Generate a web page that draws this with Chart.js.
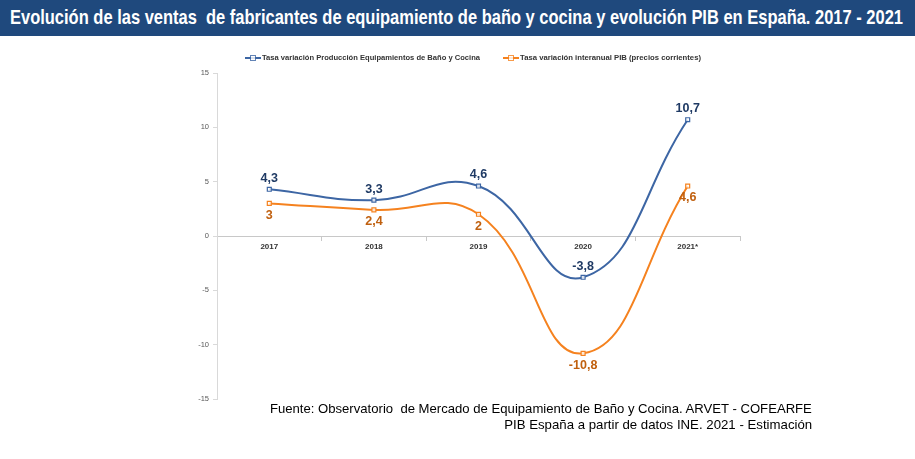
<!DOCTYPE html>
<html>
<head>
<meta charset="utf-8">
<script src="https://cdn.jsdelivr.net/npm/chart.js@4.4.0/dist/chart.umd.min.js"></script>
<style>
html,body{margin:0;padding:0;background:#fff;width:915px;height:459px;overflow:hidden;font-family:"Liberation Sans",Arial,sans-serif;}
#title{position:absolute;left:0;top:0;width:915px;height:36px;background:#1F497D;}
#title span{position:absolute;left:10px;top:5px;color:#fff;font-family:"Liberation Sans Narrow","Liberation Sans",Arial,sans-serif;font-weight:bold;font-size:21px;white-space:nowrap;transform-origin:0 0;}
#wrap{position:absolute;left:0;top:0;width:915px;height:459px;}
.leg{position:absolute;top:53px;font-size:7.6px;font-weight:bold;color:#333;white-space:nowrap;transform-origin:0 0;}
.sym{position:absolute;top:57px;width:16px;height:2px;}
.sym i{position:absolute;left:5px;top:-2px;width:4px;height:4px;border:1px solid;background:#fff;opacity:0.8}
.src{position:absolute;font-size:13.2px;color:#000;white-space:nowrap;transform-origin:100% 0;}
</style>
</head>
<body>
<div id="wrap"><canvas id="c" width="915" height="459"></canvas></div>
<div id="title"><span id="tt">Evolución de las ventas&nbsp; de fabricantes de equipamiento de baño y cocina y evolución PIB en España. 2017 - 2021</span></div>
<div class="sym" style="left:245px;background:#3D66A4"><i style="border-color:#3D66A4"></i></div>
<div class="leg" id="l1" style="left:262px">Tasa variación Producción Equipamientos de Baño y Cocina</div>
<div class="sym" style="left:503px;background:#F5821F"><i style="border-color:#F5821F"></i></div>
<div class="leg" id="l2" style="left:520px">Tasa variación interanual PIB (precios corrientes)</div>
<div class="src" id="s1" style="right:103px;top:401px">Fuente: Observatorio&nbsp; de Mercado de Equipamiento de Baño y Cocina. ARVET - COFEARFE</div>
<div class="src" id="s2" style="right:103px;top:417px">PIB España a partir de datos INE. 2021 - Estimación</div>
<script>
const categories = ["2017","2018","2019","2020","2021*"];
const produccion = [4.3, 3.3, 4.6, -3.8, 10.7];
const pib = [3, 2.4, 2, -10.8, 4.6];
const yTicks = [-15, -10, -5, 0, 5, 10, 15];

function fitWidth(id, w){
  const el = document.getElementById(id);
  const r = el.getBoundingClientRect().width;
  el.style.transform = 'scaleX(' + (w / r) + ')';
}
fitWidth('tt', 893);
fitWidth('l1', 218);
fitWidth('l2', 181);
fitWidth('s1', 542);
fitWidth('s2', 308);

const fmt = v => String(v).replace('.', ',');

const labelPlugin = {
  id: 'valueLabels',
  afterDatasetsDraw(chart){
    const ctx = chart.ctx;
    ctx.save();
    ctx.font = 'bold 12.5px "Liberation Sans", Arial, sans-serif';
    ctx.textAlign = 'center';
    ctx.textBaseline = 'middle';
    chart.data.datasets.forEach((ds, di) => {
      const meta = chart.getDatasetMeta(di);
      meta.data.forEach((pt, i) => {
        const above = di === 0;
        ctx.fillStyle = above ? '#1F3A64' : '#C0600F';
        ctx.fillText(fmt(ds.data[i]), pt.x, pt.y + (above ? -11 : 12));
      });
    });
    ctx.restore();
  }
};

new Chart(document.getElementById('c'), {
  type: 'line',
  data: {
    labels: categories,
    datasets: [
      {label: 'Tasa variación Producción Equipamientos de Baño y Cocina', data: produccion,
       borderColor: '#3D66A4', backgroundColor: 'rgba(255,255,255,0.8)', borderWidth: 2,
       tension: 0.45, pointStyle: 'rect', pointRadius: 2.8, pointBorderWidth: 1.2, pointBorderColor: '#3D66A4'},
      {label: 'Tasa variación interanual PIB (precios corrientes)', data: pib,
       borderColor: '#F5821F', backgroundColor: 'rgba(255,255,255,0.8)', borderWidth: 2,
       tension: 0.45, pointStyle: 'rect', pointRadius: 2.8, pointBorderWidth: 1.2, pointBorderColor: '#F5821F'}
    ]
  },
  options: {
    responsive: false,
    animation: false,
    layout: {padding: {left: 187, top: 73, right: 175, bottom: 60}},
    plugins: {legend: {display: false}, tooltip: {enabled: false}},
    scales: {
      x: {
        position: {y: 0},
        offset: true,
        grid: {display: true, drawOnChartArea: false, offset: true, tickLength: 4, color: '#C8C8C8'},
        border: {color: '#C8C8C8', width: 1},
        ticks: {color: '#333', font: {size: 8, weight: 'bold', family: '"Liberation Sans", Arial'}, padding: 2, maxRotation: 0}
      },
      y: {
        min: -15, max: 15,
        afterFit(s){ s.width = 30; },
        afterBuildTicks(s){ s.ticks = yTicks.map(v => ({value: v})); },
        grid: {display: true, drawOnChartArea: false, tickLength: 4, color: '#D9D9D9'},
        border: {color: '#D9D9D9', width: 1},
        ticks: {color: '#595959', font: {size: 7.5, family: '"Liberation Sans", Arial'}, padding: 4}
      }
    }
  },
  plugins: [labelPlugin]
});
</script>
</body>
</html>
